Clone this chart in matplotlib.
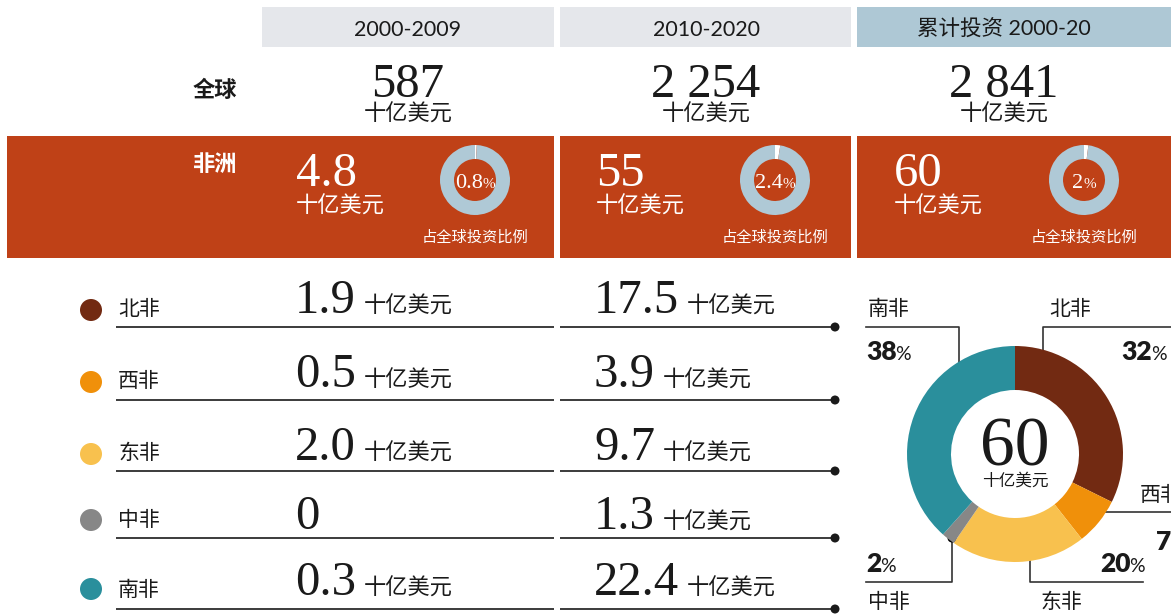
import matplotlib
matplotlib.use('Agg')
import matplotlib.pyplot as plt
from matplotlib.patches import Rectangle, Circle

# ---------------- data ----------------
periods = ['2000-2009', '2010-2020', '累计投资 2000-20']
global_totals = ['587', '2 254', '2 841']
africa_totals = ['4.8', '55', '60']
africa_share = [0.8, 2.4, 2.0]
share_labels = ['0.8', '2.4', '2']
regions = ['北非', '西非', '东非', '中非', '南非']
values_2000s = ['1.9', '0.5', '2.0', '0', '0.3']
values_2010s = ['17.5', '3.9', '9.7', '1.3', '22.4']
cumulative_pct = [32, 7, 20, 2, 38]
cumulative_total = '60'
unit = '十亿美元'
share_caption = '占全球投资比例'

# ---------------- style ----------------
region_colors = ['#722a12', '#f0900a', '#f8c14e', '#878787', '#2a8f9c']
ORANGE = '#bf4117'
GREY_HDR = '#e5e7eb'
BLUE_HDR = '#aec8d5'
RING = '#afc9d6'
INK = '#1a1a1a'
SERIF = ['Liberation Serif', 'DejaVu Serif']
SANS = ['Noto Sans CJK SC', 'DejaVu Sans']
LATO = ['Lato', 'Noto Sans CJK SC', 'DejaVu Sans']

W, H = 1171, 614
fig = plt.figure(figsize=(W / 100, H / 100), dpi=100)
ax = fig.add_axes([0, 0, 1, 1])
ax.set_xlim(0, W)
ax.set_ylim(H, 0)
ax.axis('off')
renderer = fig.canvas.get_renderer()


def rich(x, y, parts, ha='left'):
    """parts: list of (string, kwargs, gap_before_px)"""
    texts, gaps = [], []
    for s, kw, g in parts:
        t = ax.text(x, y, s, ha='left', va='baseline', **kw)
        texts.append(t)
        gaps.append(g)
    widths = [t.get_window_extent(renderer).width for t in texts]
    total = sum(widths) + sum(gaps)
    start = x if ha == 'left' else (x - total if ha == 'right' else x - total / 2)
    cur = start
    for t, w, g in zip(texts, widths, gaps):
        cur += g
        t.set_x(cur)
        cur += w
    return texts


def pie_axes(cx, cy, r):
    return fig.add_axes([(cx - r) / W, 1 - (cy + r) / H, 2 * r / W, 2 * r / H])


# ---------------- header boxes ----------------
col_boxes = [(262, 554), (560, 851), (857, 1171)]
col_centers = [408, 706, 1004]
hdr_colors = [GREY_HDR, GREY_HDR, BLUE_HDR]
for (x0, x1), c, cx, p in zip(col_boxes, hdr_colors, col_centers, periods):
    ax.add_patch(Rectangle((x0, 7), x1 - x0, 40, color=c, lw=0))
    ax.text(cx, 36, p, ha='center', va='baseline', fontsize=15.5, family=LATO, color=INK)

# ---------------- global row ----------------
ax.text(215, 97, '全球', ha='center', va='baseline', fontsize=16, family=SANS,
        weight='bold', color=INK)
for cx, v in zip(col_centers, global_totals):
    ax.text(cx, 97, v, ha='center', va='baseline', fontsize=35, family=SERIF, color=INK)
    ax.text(cx, 121, unit, ha='center', va='baseline', fontsize=16, family=SANS, color=INK)

# ---------------- Africa band ----------------
band_boxes = [(7, 554), (560, 851), (857, 1171)]
for x0, x1 in band_boxes:
    ax.add_patch(Rectangle((x0, 136), x1 - x0, 122, color=ORANGE, lw=0))
ax.text(215, 171, '非洲', ha='center', va='baseline', fontsize=16, family=SANS,
        weight='bold', color='white')
num_x = [296, 596, 894]
donut_cx = [475, 775, 1084]
for nx, dcx, tot, sh, shl in zip(num_x, donut_cx, africa_totals, africa_share, share_labels):
    ax.text(nx, 186, tot, ha='left', va='baseline', fontsize=35, family=SERIF, color='white')
    ax.text(nx, 213, unit, ha='left', va='baseline', fontsize=16, family=SANS, color='white')
    pa = pie_axes(dcx, 180, 35)
    pa.pie([sh, 100 - sh], colors=['white', RING], startangle=90, counterclock=False,
           radius=1, wedgeprops=dict(width=0.4, linewidth=0))
    pa.set_xlim(-1, 1)
    pa.set_ylim(-1, 1)
    pa.set_aspect('equal')
    pa.axis('off')
    rich(dcx, 188, [(shl, dict(fontsize=16, family=SERIF, color='white'), 0),
                    ('%', dict(fontsize=11, family=SERIF, color='white'), 0)], ha='center')
    ax.text(dcx, 242, share_caption, ha='center', va='baseline', fontsize=11,
            family=SANS, color='white')

# ---------------- regional rows ----------------
row_base = [313, 387, 460, 529, 595]
label_base = [315, 387, 459, 526, 596]
line_y = [327, 400, 471, 538, 609]
dot_y = [310, 382, 454, 520, 589]
for i, reg in enumerate(regions):
    ax.add_patch(Circle((91, dot_y[i]), 11, color=region_colors[i], lw=0))
    ax.text(118, label_base[i], reg, ha='left', va='baseline', fontsize=15,
            family=SANS, color=INK)
    ax.plot([116, 554], [line_y[i], line_y[i]], color=INK, lw=1.2, solid_capstyle='butt')
    ax.plot([560, 835], [line_y[i], line_y[i]], color=INK, lw=1.2, solid_capstyle='butt')
    ax.add_patch(Circle((835, line_y[i]), 4.5, color=INK, lw=0))
    for x0, v in zip([295, 594], [values_2000s[i], values_2010s[i]]):
        parts = [(v, dict(fontsize=35, family=SERIF, color=INK), 0)]
        if v != '0':
            parts.append((unit, dict(fontsize=16, family=SANS, color=INK), 8))
        rich(x0, row_base[i], parts)

# ---------------- cumulative donut ----------------
bcx, bcy, br = 1015, 454, 108
pb = pie_axes(bcx, bcy, br)
pb.pie(cumulative_pct, colors=region_colors, startangle=90, counterclock=False,
       radius=1, wedgeprops=dict(width=(108 - 64) / 108, linewidth=0))
pb.set_xlim(-1, 1)
pb.set_ylim(-1, 1)
pb.set_aspect('equal')
pb.axis('off')
ax.text(bcx, 465, cumulative_total, ha='center', va='baseline', fontsize=50,
        family=SERIF, color=INK)
ax.text(bcx, 486, unit, ha='center', va='baseline', fontsize=12, family=SANS, color=INK)

LC = '#333333'
lw = 1.2
bold_num = dict(fontsize=19, family=LATO, weight='heavy', color=INK)
pct_kw = dict(fontsize=14, family=LATO, color=INK)
lab_kw = dict(fontsize=15, family=SANS, color=INK)

# 北非 (index 0)
ax.plot([1043, 1043, W], [370, 327, 327], color=LC, lw=lw)
ax.add_patch(Circle((1043, 370), 4.5, color='black', lw=0, zorder=5))
ax.text(1049, 315, regions[0], ha='left', va='baseline', **lab_kw)
rich(1167, 360, [(str(cumulative_pct[0]), bold_num, 0), ('%', pct_kw, -1)], ha='right')
# 南非 (index 4)
ax.plot([959, 959, 866], [370, 327, 327], color=LC, lw=lw)
ax.add_patch(Circle((959, 370), 4.5, color='black', lw=0, zorder=5))
ax.text(868, 315, regions[4], ha='left', va='baseline', **lab_kw)
rich(866, 360, [(str(cumulative_pct[4]), bold_num, 0), ('%', pct_kw, -1)], ha='left')
# 西非 (index 1)
ax.plot([1087, W], [512, 512], color=LC, lw=lw)
ax.add_patch(Circle((1087, 512), 4.5, color='black', lw=0, zorder=5))
ax.text(1140, 501, regions[1], ha='left', va='baseline', **lab_kw)
rich(1156, 550, [(str(cumulative_pct[1]), bold_num, 0), ('%', pct_kw, -1)], ha='left')
# 东非 (index 2)
ax.plot([1030, 1030, 1143], [538, 582, 582], color=LC, lw=lw)
ax.add_patch(Circle((1030, 538), 4.5, color='black', lw=0, zorder=5))
ax.text(1040, 608, regions[2], ha='left', va='baseline', **lab_kw)
rich(1145, 572, [(str(cumulative_pct[2]), bold_num, 0), ('%', pct_kw, -1)], ha='right')
# 中非 (index 3)
ax.plot([952, 952, 866], [538, 582, 582], color=LC, lw=lw)
ax.add_patch(Circle((952, 538), 4.5, color='black', lw=0, zorder=5))
ax.text(868, 608, regions[3], ha='left', va='baseline', **lab_kw)
rich(866, 572, [(str(cumulative_pct[3]), bold_num, 0), ('%', pct_kw, -1)], ha='left')

fig.savefig('out.png', dpi=100)
